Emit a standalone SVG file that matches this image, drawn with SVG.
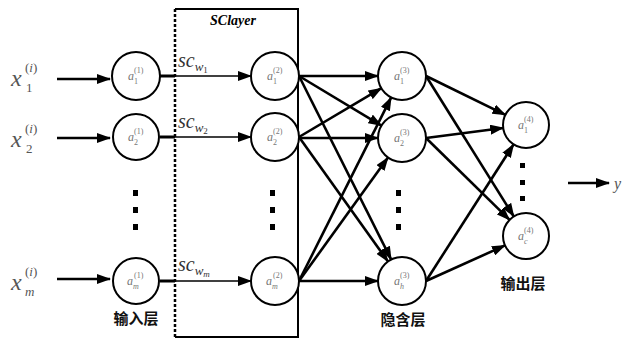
<svg xmlns="http://www.w3.org/2000/svg" width="629" height="341" viewBox="0 0 629 341">
<defs>
<marker id="ah" markerUnits="userSpaceOnUse" markerWidth="14" markerHeight="10" refX="13" refY="5" orient="auto">
<path d="M0,0 L14,5 L0,10 z" fill="#000"/>
</marker>
<style>
.nd{fill:#fff;stroke:#000;stroke-width:2}
.na{font-family:"Liberation Serif",serif;font-style:italic;font-size:12px;fill:#777}
.ns{font-family:"Liberation Serif",serif;font-size:8px;fill:#777}
.nb{font-family:"Liberation Serif",serif;font-style:italic;font-size:8px;fill:#777}
.e{stroke:#000;stroke-width:2.6;fill:none;marker-end:url(#ah)}
.e1{stroke:#000;stroke-width:1.6;fill:none;marker-end:url(#ah)}
.xi{font-family:"Liberation Serif",serif;font-style:italic;font-size:24px;fill:#555}
.xs{font-family:"Liberation Serif",serif;font-size:13px;fill:#555}
.sc{font-family:"Liberation Serif",serif;font-style:italic;font-size:20px;fill:#333}
.scs{font-family:"Liberation Serif",serif;font-style:italic;font-size:13px;fill:#333}
.cn{font-family:"Noto Sans CJK SC",sans-serif;font-weight:bold;font-size:15px;fill:#111;text-anchor:middle}
.dot{fill:#000}
</style>
</defs>
<rect width="629" height="341" fill="#fff"/>

<g id="sclayer">
<line x1="175" y1="9" x2="175" y2="337" stroke="#000" stroke-width="2.5" stroke-dasharray="3,2"/>
<polyline points="175,9 298,9 298,337 175,337" fill="none" stroke="#000" stroke-width="2"/>
<text x="233" y="25" font-family="Liberation Serif,serif" font-weight="bold" font-style="italic" font-size="14" text-anchor="middle" fill="#000">SClayer</text>
</g>

<g id="inputs">
<text class="xi" x="11" y="86">x</text><text class="xs" x="25" y="72">(<tspan font-style="italic">i</tspan>)</text><text class="xs" x="26" y="92">1</text>
<text class="xi" x="11" y="147">x</text><text class="xs" x="25" y="133">(<tspan font-style="italic">i</tspan>)</text><text class="xs" x="26" y="153">2</text>
<text class="xi" x="11" y="290">x</text><text class="xs" x="25" y="276">(<tspan font-style="italic">i</tspan>)</text><text class="xs" x="25" y="296" font-style="italic">m</text>
</g>

<g id="connectors">
<line class="e" x1="57" y1="79" x2="110" y2="79" stroke-width="2"/>
<line class="e" x1="57" y1="138" x2="110" y2="138" stroke-width="2"/>
<line class="e" x1="57" y1="279" x2="110" y2="279" stroke-width="2"/>
<line x1="160" y1="76" x2="175" y2="76" stroke="#000" stroke-width="3"/>
<line x1="160" y1="137" x2="175" y2="137" stroke="#000" stroke-width="3"/>
<line x1="160" y1="281" x2="175" y2="281" stroke="#000" stroke-width="3"/>
<line class="e1" x1="175" y1="76" x2="251" y2="76"/>
<line class="e1" x1="175" y1="137" x2="251" y2="137"/>
<line class="e1" x1="175" y1="281" x2="251" y2="281"/>

<line class="e" x1="299" y1="76" x2="378" y2="76"/>
<line class="e" x1="299" y1="76" x2="381.4" y2="125.6"/>
<line class="e" x1="299" y1="76" x2="391.2" y2="259.6"/>
<line class="e" x1="299" y1="137" x2="381.4" y2="88.2"/>
<line class="e" x1="299" y1="138" x2="378" y2="138"/>
<line class="e" x1="299" y1="137" x2="388" y2="261.5"/>
<line class="e" x1="299" y1="281" x2="391.2" y2="97.4"/>
<line class="e" x1="299" y1="281" x2="388" y2="157.5"/>
<line class="e" x1="299" y1="281" x2="378" y2="281"/>

<line class="e" x1="426" y1="76" x2="505.4" y2="114.9"/>
<line class="e" x1="426" y1="76" x2="513.8" y2="216.5"/>
<line class="e" x1="426" y1="138" x2="503.2" y2="128"/>
<line class="e" x1="426" y1="138" x2="509.6" y2="219.9"/>
<line class="e" x1="426" y1="281" x2="513.6" y2="144.4"/>
<line class="e" x1="426" y1="281" x2="505" y2="245.4"/>

<line class="e" x1="568" y1="183" x2="609" y2="183" stroke-width="2"/>
</g>

<g id="sc-labels">
<text class="sc" x="178" y="67">sc<tspan class="scs" dy="4">w</tspan><tspan font-size="9" font-style="normal" dy="2">1</tspan></text>
<text class="sc" x="178" y="128">sc<tspan class="scs" dy="4">w</tspan><tspan font-size="9" font-style="normal" dy="2">2</tspan></text>
<text class="sc" x="178" y="271">sc<tspan class="scs" dy="4">w</tspan><tspan font-size="9" dy="2">m</tspan></text>
</g>

<g id="n1_1"><circle class="nd" cx="136" cy="76" r="24"/><text class="na" x="128" y="80">a</text><text class="ns" x="134" y="73">(1)</text><text class="ns" x="134" y="84">1</text></g>
<g id="n1_2"><circle class="nd" cx="136" cy="137" r="23"/><text class="na" x="128" y="141">a</text><text class="ns" x="134" y="134">(1)</text><text class="ns" x="134" y="145">2</text></g>
<g id="n1_m"><circle class="nd" cx="136" cy="281" r="23"/><text class="na" x="127" y="285">a</text><text class="ns" x="134" y="278">(1)</text><text class="nb" x="133" y="289">m</text></g>

<g id="n2_1"><circle class="nd" cx="275" cy="76" r="24"/><text class="na" x="267" y="80">a</text><text class="ns" x="273" y="73">(2)</text><text class="ns" x="273" y="84">1</text></g>
<g id="n2_2"><circle class="nd" cx="275" cy="137" r="24"/><text class="na" x="267" y="141">a</text><text class="ns" x="273" y="134">(2)</text><text class="ns" x="273" y="145">2</text></g>
<g id="n2_m"><circle class="nd" cx="275" cy="281" r="24"/><text class="na" x="266" y="285">a</text><text class="ns" x="273" y="278">(2)</text><text class="nb" x="272" y="289">m</text></g>

<g id="n3_1"><circle class="nd" cx="402" cy="76" r="24"/><text class="na" x="394" y="80">a</text><text class="ns" x="400" y="73">(3)</text><text class="ns" x="400" y="84">1</text></g>
<g id="n3_2"><circle class="nd" cx="402" cy="138" r="24"/><text class="na" x="394" y="142">a</text><text class="ns" x="400" y="135">(3)</text><text class="ns" x="400" y="146">2</text></g>
<g id="n3_h"><circle class="nd" cx="402" cy="281" r="24"/><text class="na" x="394" y="285">a</text><text class="ns" x="400" y="278">(3)</text><text class="nb" x="400" y="289">h</text></g>

<g id="n4_1"><circle class="nd" cx="526" cy="125" r="23"/><text class="na" x="518" y="129">a</text><text class="ns" x="524" y="122">(4)</text><text class="ns" x="524" y="133">1</text></g>
<g id="n4_c"><circle class="nd" cx="526" cy="236" r="23"/><text class="na" x="518" y="240">a</text><text class="ns" x="524" y="233">(4)</text><text class="nb" x="524" y="244">c</text></g>

<g id="dots">
<rect class="dot" x="133" y="190" width="5" height="6"/><rect class="dot" x="133" y="207" width="5" height="6"/><rect class="dot" x="133" y="224" width="5" height="6"/>
<rect class="dot" x="270" y="190" width="5" height="6"/><rect class="dot" x="270" y="207" width="5" height="6"/><rect class="dot" x="270" y="224" width="5" height="6"/>
<rect class="dot" x="396" y="190" width="5" height="6"/><rect class="dot" x="396" y="207" width="5" height="6"/><rect class="dot" x="396" y="224" width="5" height="6"/>
<rect class="dot" x="520" y="163" width="5" height="5"/><rect class="dot" x="520" y="180" width="5" height="5"/><rect class="dot" x="520" y="196" width="5" height="5"/>
</g>

<g id="labels">
<text class="cn" x="136" y="324">输入层</text>
<text class="cn" x="403" y="325">隐含层</text>
<text class="cn" x="523" y="289">输出层</text>
<text x="614" y="189" font-family="Liberation Serif,serif" font-style="italic" font-size="16" fill="#555">y</text>
</g>
</svg>
